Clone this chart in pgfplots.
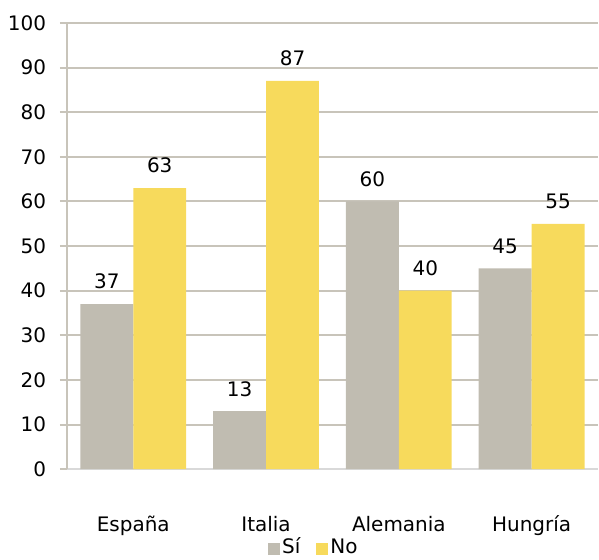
\documentclass[border=0pt]{standalone}
\usepackage{pgfplots}
\pgfplotsset{compat=1.18}
\usepackage{fontspec}
\setmainfont{DejaVu Sans}
\definecolor{barGray}{HTML}{C0BCB1}
\definecolor{barYellow}{HTML}{F7DA5C}
\definecolor{gridGray}{HTML}{C8C4BA}
\definecolor{baseGray}{HTML}{D9D9D9}
\begin{document}
\fontsize{20bp}{24bp}\selectfont
\begin{tikzpicture}
\begin{axis}[
  at={(0,0)}, anchor=south west,
  scale only axis,
  width=532bp, height=447bp,
  xmin=-0.5, xmax=3.5,
  ymin=0, ymax=100,
  ytick={0,10,...,100},
  xtick={0,1,2,3},
  xticklabels={España,Italia,Alemania,Hungría},
  /pgf/number format/assume math mode=true,
  ticklabel style={font=\fontsize{20bp}{24bp}\selectfont},
  xticklabel style={yshift=-33bp},
  yticklabel style={xshift=-7bp},
  major x tick style={draw=none},
  major y tick style={draw=gridGray, line width=2bp},
  major tick length=7bp,
  tick align=outside,
  axis x line*=bottom,
  axis y line*=left,
  x axis line style={draw=baseGray, line width=2bp, -},
  y axis line style={draw=gridGray, line width=2.5bp, -},
  ymajorgrids,
  grid style={draw=gridGray, line width=2bp},
  ybar, bar width=53bp,
  enlarge x limits=false,
  nodes near coords,
  every node near coord/.append style={font=\fontsize{20bp}{24bp}\selectfont, yshift=8bp},
  legend style={draw=none, at={(0.465,-0.176)}, anchor=center, legend columns=2,
    font=\fontsize{20bp}{24bp}\selectfont, inner sep=0pt,
    nodes={text height=15bp, text depth=4bp, inner xsep=2bp},
    /tikz/every even column/.append style={column sep=14bp}},
  legend image code/.code={\fill[#1] (0bp,-7bp) rectangle (12bp,5bp);},
]
\addplot[fill=barGray, draw=none, bar shift=-26.5bp] coordinates {(0,37) (1,13) (2,60) (3,45)};
\addplot[fill=barYellow, draw=none, bar shift=26.5bp] coordinates {(0,63) (1,87) (2,40) (3,55)};
\legend{Sí,No}
\end{axis}
\path[use as bounding box] (-67bp,-88bp) rectangle (532bp,470bp);
\end{tikzpicture}
\end{document}
